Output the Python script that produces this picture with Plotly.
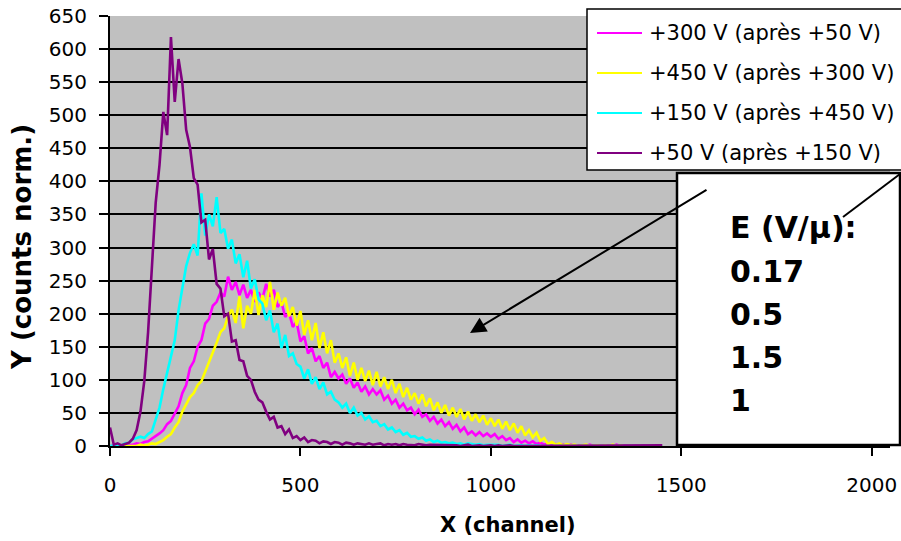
import plotly.graph_objects as go

# Channel axis (10-channel bins) and normalised counts for each bias run
CHANNELS = list(range(0, 1460, 10))

PLUS300_AFTER50 = [
    0, 1, 0, 1, 0, 2, 2, 4, 3, 6,
    7, 11, 14, 19, 24, 33, 38, 50, 60, 80,
    92, 118, 128, 150, 160, 185, 192, 212, 218, 232,
    226, 256, 236, 248, 228, 244, 224, 236, 218, 232,
    222, 245, 226, 236, 210, 218, 195, 202, 180, 188,
    158, 166, 140, 148, 128, 136, 118, 126, 104, 112,
    102, 108, 94, 102, 88, 96, 82, 90, 78, 86,
    78, 84, 70, 76, 64, 70, 58, 64, 54, 58,
    48, 55, 44, 48, 38, 44, 34, 40, 30, 36,
    26, 32, 22, 28, 18, 22, 16, 21, 15, 19,
    14, 18, 11, 15, 9, 12, 6, 10, 5, 8,
    4, 7, 3, 5, 2, 4, 1, 3, 1, 2,
    0, 2, 0, 1, 1, 0, 2, 0, 1, 0,
    1, 0, 0, 2, 0, 1, 0, 0, 1, 0,
    1, 0, 0, 1, 0, 0,
]

PLUS450_AFTER300 = [
    0, 0, 0, 0, 0, 0, 1, 0, 2, 1,
    2, 4, 3, 6, 9, 14, 18, 28, 36, 52,
    62, 74, 80, 92, 98, 112, 128, 142, 156, 172,
    178, 196, 206, 186, 226, 178, 212, 200, 236, 198,
    228, 210, 248, 206, 232, 212, 224, 196, 210, 182,
    204, 168, 190, 160, 186, 148, 172, 140, 160, 126,
    140, 118, 134, 106, 126, 100, 118, 98, 114, 92,
    112, 90, 104, 86, 100, 80, 94, 74, 88, 70,
    80, 64, 78, 60, 72, 54, 66, 50, 62, 46,
    58, 44, 56, 40, 52, 38, 48, 36, 46, 32,
    42, 30, 40, 26, 37, 24, 34, 20, 30, 16,
    24, 13, 20, 8, 12, 3, 6, 2, 4, 1,
    3, 1, 2, 0, 1, 2, 0, 1, 1, 0,
    1, 0, 2, 0, 1, 0, 0, 1, 0, 0,
    1, 0, 0, 1, 0, 0,
]

PLUS150_AFTER450 = [
    0, 1, 0, 1, 4, 5, 10, 12, 14, 12,
    18, 22, 40, 58, 86, 110, 138, 160, 205, 240,
    272, 292, 305, 288, 382, 318, 350, 332, 376, 322,
    328, 298, 312, 276, 290, 255, 280, 238, 252, 222,
    215, 190, 205, 172, 185, 148, 168, 136, 140, 124,
    120, 102, 116, 94, 104, 86, 96, 78, 82, 70,
    66, 58, 64, 50, 58, 46, 50, 40, 45, 36,
    38, 30, 33, 25, 28, 21, 24, 17, 20, 14,
    15, 11, 13, 8, 10, 6, 8, 5, 6, 4,
    5, 3, 4, 2, 4, 3, 2, 3, 1, 2,
    2, 1, 2, 0, 1, 2, 0, 1, 1, 0,
    1, 0, 1, 0, 0, 1, 0, 0, 1, 0,
    0, 1, 0, 0, 0, 1, 0, 0, 0, 0,
    0, 0, 1, 0, 0, 0, 0, 0, 1, 0,
    0, 0, 0, 0, 1, 0,
]

PLUS50_AFTER150 = [
    28, 2, 4, 1, 3, 5, 11, 24, 52, 98,
    172, 262, 368, 425, 505, 470, 618, 520, 585, 548,
    478, 452, 405, 395, 338, 342, 282, 298, 245, 238,
    196, 200, 158, 160, 130, 128, 106, 100, 82, 70,
    66, 52, 40, 44, 28, 30, 18, 25, 12, 15,
    9, 13, 6, 9, 8, 4, 7, 6, 3, 6,
    5, 2, 5, 4, 2, 4, 3, 2, 4, 2,
    3, 4, 1, 3, 2, 3, 1, 3, 2, 2,
    1, 3, 2, 1, 2, 2, 1, 2, 1, 1,
    2, 1, 0, 1, 2, 0, 1, 1, 0, 1,
    1, 0, 1, 0, 1, 1, 0, 0, 1, 0,
    0, 1, 0, 0, 1, 0, 0, 1, 0, 0,
    1, 0, 0, 1, 0, 0, 0, 1, 0, 0,
    0, 1, 0, 0, 0, 0, 1, 0, 0, 0,
    1, 0, 0, 0, 0, 1,
]

SERIES_NAMES = [
    "+300 V (après +50 V)",
    "+450 V (après +300 V)",
    "+150 V (après +450 V)",
    "+50 V (après +150 V)",
]
SERIES_VALUES = [PLUS300_AFTER50, PLUS450_AFTER300, PLUS150_AFTER450, PLUS50_AFTER150]
SERIES_COLORS = ["#FF00FF", "#FFFF00", "#00FFFF", "#800080"]

FIELD_LABELS = ["E (V/µ):", "0.17", "0.5", "1.5", "1"]

X_TICKS = [0, 500, 1000, 1500, 2000]
Y_TICKS = list(range(0, 651, 50))

FONT = "DejaVu Sans"

# Figure geometry (pixels)
W, H = 901, 541
L, R, T, B = 110, 890, 16, 446


def xp(px):
    return (px - L) / (R - L)


def yp(py):
    return (B - py) / (B - T)


fig = go.Figure()
for name, vals, col in zip(SERIES_NAMES, SERIES_VALUES, SERIES_COLORS):
    fig.add_trace(go.Scatter(
        x=CHANNELS, y=vals, mode="lines", name=name,
        line=dict(color=col, width=2.6), showlegend=False,
    ))

shapes = []
annotations = []

# Legend box (runs off the right edge of the page)
shapes.append(dict(type="rect", xref="paper", yref="paper",
                   x0=xp(587), x1=xp(903), y0=yp(170), y1=yp(9),
                   fillcolor="white", line=dict(color="black", width=1.5),
                   layer="above"))
for i, (name, col) in enumerate(zip(SERIES_NAMES, SERIES_COLORS)):
    ly = 33 + 40 * i
    shapes.append(dict(type="line", xref="paper", yref="paper",
                       x0=xp(597), x1=xp(642), y0=yp(ly), y1=yp(ly),
                       line=dict(color=col, width=1.8), layer="above"))
    annotations.append(dict(text=name, xref="paper", yref="paper",
                            x=xp(647), y=yp(ly), xanchor="left", yanchor="middle",
                            showarrow=False,
                            font=dict(family=FONT, size=21, color="black")))

# Field-strength text box
shapes.append(dict(type="rect", xref="paper", yref="paper",
                   x0=xp(677), x1=xp(900), y0=yp(445), y1=yp(173),
                   fillcolor="white", line=dict(color="black", width=2.5),
                   layer="above"))
for i, lab in enumerate(FIELD_LABELS):
    annotations.append(dict(text="<b>%s</b>" % lab, xref="paper", yref="paper",
                            x=xp(728), y=yp(228 + 43 * i),
                            xanchor="left", yanchor="middle", showarrow=False,
                            font=dict(family=FONT, size=30, color="black")))

# Pointer lines
shapes.append(dict(type="line", xref="paper", yref="paper",
                   x0=xp(900), y0=yp(174), x1=xp(843), y1=yp(217),
                   line=dict(color="black", width=2), layer="above"))
annotations.append(dict(text="", xref="paper", yref="paper",
                        x=xp(470), y=yp(333), ax=708 - 470, ay=189 - 333,
                        showarrow=True, arrowhead=2, arrowsize=1.6,
                        arrowwidth=2, arrowcolor="black"))

# Axis titles
annotations.append(dict(text="<b>X (channel)</b>", xref="paper", yref="paper",
                        x=xp(508), y=yp(525), xanchor="center", yanchor="middle",
                        showarrow=False,
                        font=dict(family=FONT, size=21, color="black")))
annotations.append(dict(text="<b>Y (counts norm.)</b>", xref="paper", yref="paper",
                        x=xp(22), y=yp(247), xanchor="center", yanchor="middle",
                        textangle=-90, showarrow=False,
                        font=dict(family=FONT, size=26, color="black")))

fig.update_layout(
    width=W, height=H,
    margin=dict(l=L, r=W - R, t=T, b=H - B, pad=0, autoexpand=False),
    paper_bgcolor="white", plot_bgcolor="#C0C0C0",
    shapes=shapes, annotations=annotations,
    showlegend=False,
    xaxis=dict(range=[0, 2048], tickvals=X_TICKS, ticks="outside", ticklen=8,
               tickwidth=1.5, tickcolor="black", showline=True, linecolor="black",
               linewidth=2, showgrid=False, zeroline=False, automargin=False,
               ticklabelstandoff=12,
               tickfont=dict(family=FONT, size=20, color="black")),
    yaxis=dict(range=[0, 650], tickvals=Y_TICKS, ticks="outside", ticklen=9,
               tickwidth=1.5, tickcolor="black", showline=True, linecolor="black",
               linewidth=2, showgrid=True, gridcolor="black", gridwidth=1.6,
               zeroline=False, automargin=False, ticklabelstandoff=8,
               tickfont=dict(family=FONT, size=20, color="black")),
)

fig.write_html("out.html")
